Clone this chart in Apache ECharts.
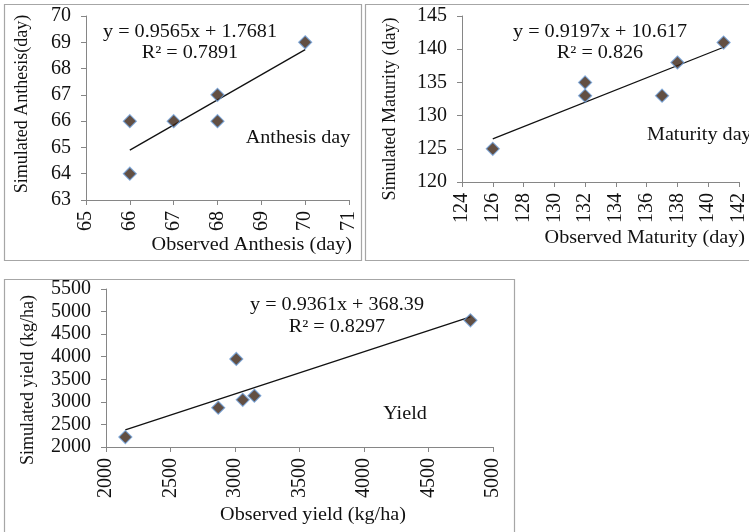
<!DOCTYPE html>
<html>
<head>
<meta charset="utf-8">
<script src="https://cdn.jsdelivr.net/npm/echarts@6/dist/echarts.min.js"></script>
<style>
  html, body { margin: 0; padding: 0; background: #fff; }
  #chart { width: 749px; height: 532px; }
</style>
</head>
<body>
<div id="chart"></div>
<script>
// observed vs simulated
const anthesisObs = [66, 66, 67, 68, 68, 70]
const anthesisSim = [66, 64, 66, 67, 66, 69]
const anthesisFit = [0.9565, 1.7681, 0.7891]

const maturityObs = [126, 132, 132, 137, 138, 141]
const maturitySim = [125, 135, 133, 133, 138, 141]
const maturityFit = [0.9197, 10.617, 0.826]

const yieldObs = [2150, 2870, 3010, 3060, 3150, 4825]
const yieldSim = [2220, 2870, 3950, 3045, 3135, 4805]
const yieldFit = [0.9361, 368.39, 0.8297]

const FONT = '"Liberation Serif", "Times New Roman", serif'
const AXIS_COLOR = '#868686'
const STRETCH = 1.12 // the source figure is a bit wider than tall

function pairs(xs, ys) {
  return xs.map(function (x, i) { return [x, ys[i]] })
}
function trend(xs, fit) {
  const lo = Math.min.apply(null, xs)
  const hi = Math.max.apply(null, xs)
  return [[lo, fit[0] * lo + fit[1]], [hi, fit[0] * hi + fit[1]]]
}
function plain(v) { return String(v) }

function xAxisOf(idx, min, max, interval) {
  return {
    type: 'value', gridIndex: idx, min: min, max: max, interval: interval,
    splitLine: { show: false },
    axisLine: { show: true, onZero: false, lineStyle: { color: AXIS_COLOR } },
    axisTick: { show: true, inside: false, length: 5, lineStyle: { color: AXIS_COLOR } },
    axisLabel: { rotate: 90, margin: 11, color: '#111', fontFamily: FONT, fontSize: 20, formatter: plain }
  }
}
function yAxisOf(idx, min, max, interval) {
  return {
    type: 'value', gridIndex: idx, min: min, max: max, interval: interval,
    splitLine: { show: false },
    axisLine: { show: true, onZero: false, lineStyle: { color: AXIS_COLOR } },
    axisTick: { show: true, inside: false, length: 5, lineStyle: { color: AXIS_COLOR } },
    axisLabel: { margin: 15, color: '#111', fontFamily: FONT, fontSize: 20, formatter: plain }
  }
}
function scatterOf(idx, xs, ys) {
  return {
    type: 'scatter', xAxisIndex: idx, yAxisIndex: idx,
    symbol: 'diamond', symbolSize: 13,
    itemStyle: { color: '#3b2314', borderColor: '#6f9fd8', borderWidth: 1.2 },
    data: pairs(xs, ys), z: 3
  }
}
function lineOf(idx, xs, fit) {
  return {
    type: 'line', xAxisIndex: idx, yAxisIndex: idx,
    showSymbol: false, silent: true,
    lineStyle: { color: '#111', width: 1.3 },
    data: trend(xs, fit), z: 2
  }
}
function txt(x, y, s, opts) {
  opts = opts || {}
  const rot = opts.rot || 0
  return {
    type: 'text', x: x, y: y, rotation: rot,
    scaleX: rot ? 1 : STRETCH,
    scaleY: rot ? 1.05 : 1,
    style: {
      text: s, fill: '#111', font: (opts.size || 18) + 'px ' + FONT,
      align: opts.align || 'center', verticalAlign: 'middle'
    }
  }
}
function box(x, y, w, h) {
  return {
    type: 'rect', shape: { x: x, y: y, width: w, height: h },
    style: { fill: 'none', stroke: '#a6a6a6', lineWidth: 1.2 }
  }
}

const chart = echarts.init(document.getElementById('chart'))
chart.setOption({
  backgroundColor: '#fff',
  animation: false,
  grid: [
    { left: 86, top: 16, width: 263, height: 184 },
    { left: 462, top: 16, width: 285, height: 166 },
    { left: 106, top: 289, width: 387, height: 158 }
  ],
  xAxis: [
    xAxisOf(0, 65, 71, 1),
    xAxisOf(1, 124, 142, 2),
    xAxisOf(2, 2000, 5000, 500)
  ],
  yAxis: [
    yAxisOf(0, 63, 70, 1),
    yAxisOf(1, 120, 145, 5),
    yAxisOf(2, 2000, 5500, 500)
  ],
  series: [
    lineOf(0, anthesisObs, anthesisFit),
    scatterOf(0, anthesisObs, anthesisSim),
    lineOf(1, maturityObs, maturityFit),
    scatterOf(1, maturityObs, maturitySim),
    lineOf(2, yieldObs, yieldFit),
    scatterOf(2, yieldObs, yieldSim)
  ],
  graphic: [
    box(4.5, 4.5, 357, 256),
    box(365.5, 4.5, 420, 256),
    box(4.5, 279.5, 510, 300),

    txt(190, 32, 'y = ' + anthesisFit[0] + 'x + ' + anthesisFit[1]),
    txt(190, 53, 'R² = ' + anthesisFit[2]),
    txt(298, 138, 'Anthesis day'),
    txt(352, 245, 'Observed Anthesis (day)', { align: 'right' }),
    txt(22, 104, 'Simulated Anthesis(day)', { rot: Math.PI / 2 }),

    txt(600, 32, 'y = ' + maturityFit[0] + 'x + ' + maturityFit[1]),
    txt(600, 53, 'R² = ' + maturityFit[2]),
    txt(647, 135, 'Maturity day', { align: 'left' }),
    txt(745, 238, 'Observed Maturity (day)', { align: 'right' }),
    txt(390, 109, 'Simulated Maturity (day)', { rot: Math.PI / 2 }),

    txt(337, 305, 'y = ' + yieldFit[0] + 'x + ' + yieldFit[1]),
    txt(337, 327, 'R² = ' + yieldFit[2]),
    txt(405, 414, 'Yield'),
    txt(313, 515, 'Observed yield (kg/ha)'),
    txt(28, 380, 'Simulated yield (kg/ha)', { rot: Math.PI / 2 })
  ]
})
</script>
</body>
</html>
